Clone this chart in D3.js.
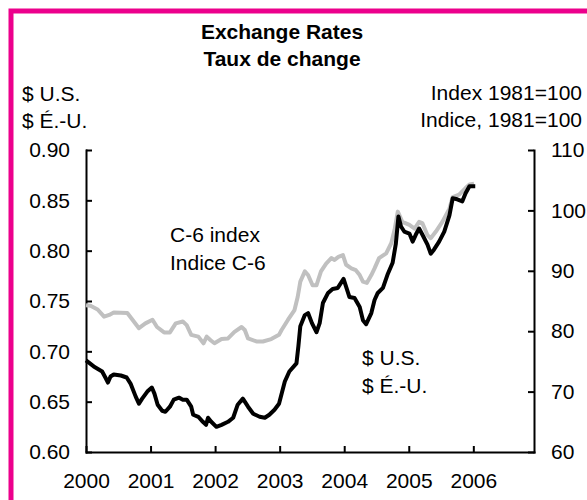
<!DOCTYPE html>
<html>
<head>
<meta charset="utf-8">
<script src="https://cdn.jsdelivr.net/npm/d3@7"></script>
<style>
  body { margin: 0; background: #fff; }
  text { font-family: "Liberation Sans", Arial, sans-serif; fill: #000; }
</style>
</head>
<body>
<div class="canvas"></div>
<script>
// US dollar per Canadian dollar (left axis)
const usdYears = [2000.00, 2000.12, 2000.25, 2000.30, 2000.34, 2000.38, 2000.43, 2000.54, 2000.63, 2000.69,
  2000.77, 2000.82, 2000.87, 2000.95, 2001.02, 2001.06, 2001.11, 2001.18, 2001.23, 2001.30,
  2001.36, 2001.44, 2001.50, 2001.56, 2001.63, 2001.66, 2001.74, 2001.81, 2001.86, 2001.89,
  2001.94, 2002.02, 2002.10, 2002.20, 2002.28, 2002.35, 2002.43, 2002.51, 2002.59, 2002.69,
  2002.77, 2002.84, 2002.92, 2002.99, 2003.08, 2003.15, 2003.26, 2003.29, 2003.32, 2003.39,
  2003.44, 2003.50, 2003.57, 2003.62, 2003.67, 2003.75, 2003.82, 2003.90, 2003.95, 2003.99,
  2004.03, 2004.08, 2004.16, 2004.24, 2004.29, 2004.34, 2004.42, 2004.47, 2004.52, 2004.60,
  2004.67, 2004.75, 2004.80, 2004.84, 2004.88, 2004.93, 2005.01, 2005.06, 2005.11, 2005.16,
  2005.21, 2005.29, 2005.34, 2005.39, 2005.47, 2005.55, 2005.63, 2005.68, 2005.75, 2005.83,
  2005.88, 2005.94, 2006.03];
const usdRates = [0.691, 0.685, 0.680, 0.674, 0.669, 0.675, 0.677, 0.676, 0.674, 0.668,
  0.655, 0.648, 0.653, 0.660, 0.664, 0.658, 0.647, 0.641, 0.640, 0.645,
  0.652, 0.654, 0.652, 0.652, 0.645, 0.637, 0.635, 0.630, 0.627, 0.634,
  0.630, 0.625, 0.627, 0.630, 0.634, 0.647, 0.653, 0.645, 0.638, 0.635,
  0.634, 0.637, 0.642, 0.648, 0.670, 0.680, 0.688, 0.705, 0.725, 0.736,
  0.738, 0.728, 0.719, 0.728, 0.748, 0.758, 0.762, 0.763, 0.768, 0.772,
  0.764, 0.754, 0.753, 0.744, 0.731, 0.727, 0.738, 0.751, 0.758, 0.763,
  0.776, 0.788, 0.807, 0.834, 0.824, 0.819, 0.817, 0.809, 0.816, 0.822,
  0.816, 0.806, 0.797, 0.801, 0.809, 0.819, 0.835, 0.852, 0.851, 0.849,
  0.857, 0.864, 0.864];

// C-6 index, 1981=100 (right axis)
const c6Years = [2000.00, 2000.07, 2000.18, 2000.28, 2000.36, 2000.43, 2000.64, 2000.72, 2000.82, 2000.92,
  2001.03, 2001.10, 2001.21, 2001.30, 2001.39, 2001.50, 2001.56, 2001.63, 2001.74, 2001.82,
  2001.87, 2001.93, 2001.99, 2002.10, 2002.20, 2002.30, 2002.41, 2002.46, 2002.51, 2002.64,
  2002.74, 2002.87, 2002.99, 2003.03, 2003.13, 2003.23, 2003.28, 2003.32, 2003.39, 2003.44,
  2003.51, 2003.57, 2003.64, 2003.72, 2003.80, 2003.85, 2003.91, 2003.98, 2004.03, 2004.11,
  2004.18, 2004.24, 2004.29, 2004.35, 2004.42, 2004.47, 2004.54, 2004.65, 2004.73, 2004.78,
  2004.83, 2004.90, 2005.01, 2005.09, 2005.16, 2005.21, 2005.29, 2005.34, 2005.42, 2005.52,
  2005.63, 2005.68, 2005.78, 2005.88, 2005.94, 2006.01];
const c6Index = [84.3, 84.2, 83.6, 82.4, 82.7, 83.1, 83.0, 81.9, 80.5, 81.3,
  81.9, 80.7, 79.8, 79.8, 81.3, 81.6, 81.0, 79.4, 79.1, 78.0,
  79.1, 78.5, 78.0, 78.7, 78.8, 79.9, 80.7, 80.2, 78.8, 78.3,
  78.3, 78.7, 79.4, 80.2, 81.9, 83.5, 85.7, 88.2, 89.9, 89.3,
  87.6, 87.6, 89.9, 91.2, 92.1, 91.8, 92.3, 92.6, 91.0, 90.4,
  90.1, 89.3, 88.2, 88.0, 89.3, 90.4, 92.1, 92.9, 94.6, 96.8,
  99.8, 98.1, 97.6, 97.0, 98.1, 97.9, 95.9, 95.4, 96.5, 98.1,
  100.3, 102.2, 102.6, 103.7, 104.3, 104.4];

const yearTicks = [2000, 2001, 2002, 2003, 2004, 2005, 2006];
const usdTicks = [0.60, 0.65, 0.70, 0.75, 0.80, 0.85, 0.90];
const indexTicks = [60, 70, 80, 90, 100, 110];

const dims = { width: 587, height: 500 };
const plot = { left: 86, right: 534, top: 150, bottom: 452 };
const fontSize = 21;

const svg = d3.select(".canvas")
  .append("svg")
  .attr("width", dims.width)
  .attr("height", dims.height);

// pink frame (only top and left edges fall inside the picture)
svg.append("rect")
  .attr("x", 11).attr("y", 11)
  .attr("width", 700).attr("height", 700)
  .attr("fill", "none")
  .attr("stroke", "#ec008c")
  .attr("stroke-width", 5);

const x = d3.scaleLinear().domain([2000, 2006.94]).range([plot.left, plot.right]);
const yLeft = d3.scaleLinear().domain([0.60, 0.90]).range([plot.bottom, plot.top]);
const yRight = d3.scaleLinear().domain([60, 110]).range([plot.bottom, plot.top]);

//axes, ticks pointing inward
const styleAxis = g => {
  g.selectAll("path, line").attr("stroke", "#000").attr("stroke-width", 2);
  g.selectAll("text").attr("font-size", fontSize).attr("font-family", '"Liberation Sans", Arial, sans-serif');
};

svg.append("g")
  .attr("transform", `translate(${plot.left},0)`)
  .call(d3.axisLeft(yLeft).tickValues(usdTicks).tickFormat(d3.format(".2f"))
    .tickSize(-6).tickSizeOuter(0).tickPadding(16))
  .call(styleAxis);

svg.append("g")
  .attr("transform", `translate(${plot.right},0)`)
  .call(d3.axisRight(yRight).tickValues(indexTicks).tickFormat(d3.format("d"))
    .tickSize(-6).tickSizeOuter(0).tickPadding(17))
  .call(styleAxis);

svg.append("g")
  .attr("transform", `translate(0,${plot.bottom})`)
  .call(d3.axisBottom(x).tickValues(yearTicks).tickFormat(d3.format("d"))
    .tickSize(-6).tickSizeOuter(0).tickPadding(21))
  .call(styleAxis);

svg.selectAll(".domain").attr("stroke-linecap", "square");

//lines
const c6Line = d3.line()
  .x((d, i) => x(c6Years[i]))
  .y(d => yRight(d));

const usdLine = d3.line()
  .x((d, i) => x(usdYears[i]))
  .y(d => yLeft(d));

svg.append("path")
  .attr("d", c6Line(c6Index))
  .attr("fill", "none")
  .attr("stroke", "#c0c0c0")
  .attr("stroke-width", 4)
  .attr("stroke-linejoin", "round");

svg.append("path")
  .attr("d", usdLine(usdRates))
  .attr("fill", "none")
  .attr("stroke", "#000")
  .attr("stroke-width", 4)
  .attr("stroke-linejoin", "round");

//titles and labels
const addText = (str, tx, ty, anchor, bold) => {
  svg.append("text")
    .attr("x", tx).attr("y", ty)
    .attr("text-anchor", anchor)
    .attr("font-size", fontSize)
    .attr("font-weight", bold ? "bold" : "normal")
    .text(str);
};

addText("Exchange Rates", 282, 39, "middle", true);
addText("Taux de change", 282, 66, "middle", true);
addText("$ U.S.", 22, 101, "start");
addText("$ É.-U.", 22, 128, "start");
addText("Index 1981=100", 582, 100, "end");
addText("Indice, 1981=100", 582, 127, "end");
addText("C-6 index", 170, 242, "start");
addText("Indice C-6", 170, 270, "start");
addText("$ U.S.", 362, 365, "start");
addText("$ É.-U.", 362, 393, "start");
</script>
</body>
</html>
